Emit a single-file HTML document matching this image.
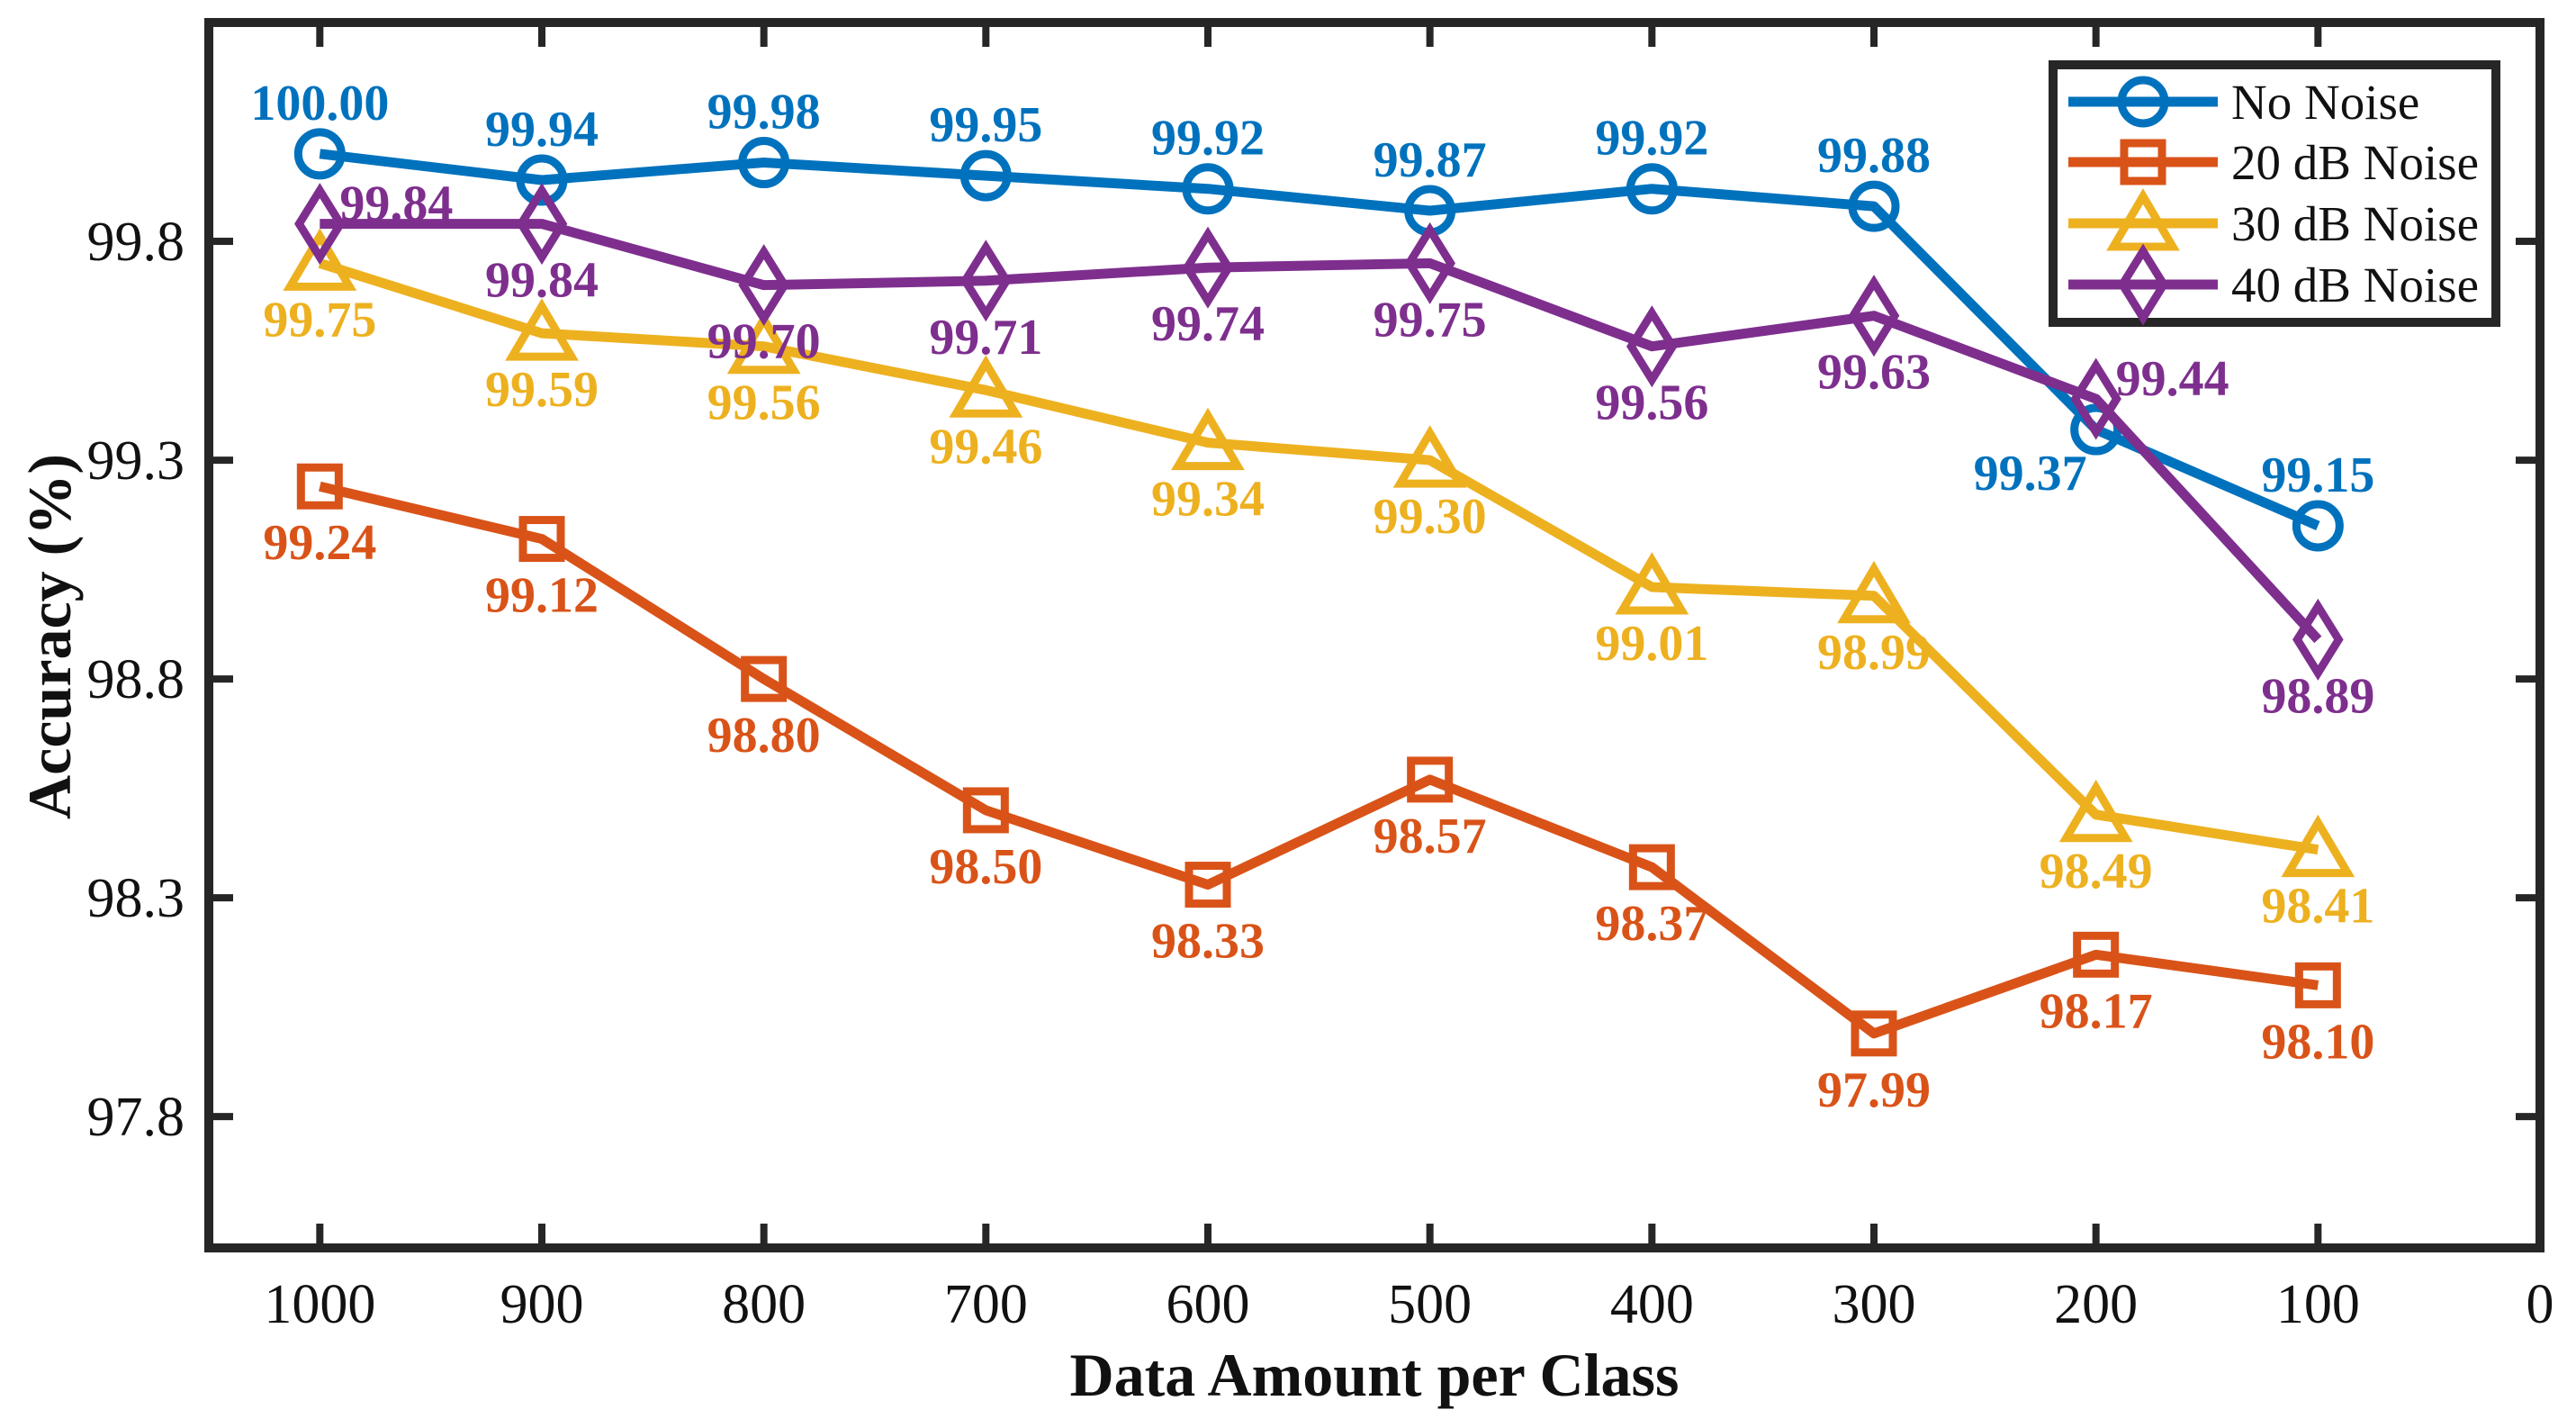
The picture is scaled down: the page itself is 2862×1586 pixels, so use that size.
<!DOCTYPE html>
<html><head><meta charset="utf-8"><style>
html,body{margin:0;padding:0;background:#fff;}
svg{display:block;}
text{font-family:"Liberation Serif","Times New Roman",serif;}
</style></head><body>
<svg id="chart" width="2862" height="1586" viewBox="0 0 2862 1586" xmlns="http://www.w3.org/2000/svg">
<rect x="0" y="0" width="2862" height="1586" fill="#fff"/>
<g id="plot"></g>
</svg>
<script>
const categories = [1000, 900, 800, 700, 600, 500, 400, 300, 200, 100];
const xTicks = [1000, 900, 800, 700, 600, 500, 400, 300, 200, 100, 0];
const yTicks = [99.8, 99.3, 98.8, 98.3, 97.8];
const yTickLabels = ["99.8", "99.3", "98.8", "98.3", "97.8"];
const noNoise = [100.00, 99.94, 99.98, 99.95, 99.92, 99.87, 99.92, 99.88, 99.37, 99.15];
const noise20 = [99.24, 99.12, 98.80, 98.50, 98.33, 98.57, 98.37, 97.99, 98.17, 98.10];
const noise30 = [99.75, 99.59, 99.56, 99.46, 99.34, 99.30, 99.01, 98.99, 98.49, 98.41];
const noise40 = [99.84, 99.84, 99.70, 99.71, 99.74, 99.75, 99.56, 99.63, 99.44, 98.89];
const seriesNames = ["No Noise", "20 dB Noise", "30 dB Noise", "40 dB Noise"];

const NS = "http://www.w3.org/2000/svg";
const L = 232, R = 2822, T = 25, B = 1386;
const xMin = 1050, xMax = 0, yMin = 97.5, yMax = 100.3;
function xs(v){ return L + (xMin - v) / (xMin - xMax) * (R - L); }
function ys(v){ return B - (v - yMin) / (yMax - yMin) * (B - T); }
const plot = document.getElementById('plot');
function mk(tag, attrs, parent){
  const e = document.createElementNS(NS, tag);
  for (const k in attrs) e.setAttribute(k, attrs[k]);
  (parent || plot).appendChild(e);
  return e;
}
const colors = ["#0072BD", "#D95319", "#EDB120", "#7E2F8E"];
const AX = "#262626";

xTicks.forEach((v, i) => {
  const x = xs(v);
  let t = mk('line', {x1:x, x2:x, y1:B, y2:B-27, stroke:AX, 'stroke-width':8});
  
  
  t = mk('line', {x1:x, x2:x, y1:T, y2:T+27, stroke:AX, 'stroke-width':8});
  
  
  const lb = mk('text', {x:x, y:1469, 'text-anchor':'middle', 'font-size':62, fill:'#111'});
  lb.textContent = String(v);
  
  
});
yTicks.forEach((v, i) => {
  const y = ys(v);
  let t = mk('line', {x1:L, x2:L+27, y1:y, y2:y, stroke:AX, 'stroke-width':8});
  
  
  t = mk('line', {x1:R, x2:R-27, y1:y, y2:y, stroke:AX, 'stroke-width':8});
  
  
  const lb = mk('text', {x:205, y:y+21, 'text-anchor':'end', 'font-size':62, fill:'#111'});
  lb.textContent = yTickLabels[i];
  
  
});
const frame = mk('rect', {x:L, y:T, width:R-L, height:B-T, fill:'none', stroke:AX, 'stroke-width':10});



const xt = mk('text', {x:1527, y:1550, 'text-anchor':'middle', 'font-size':68, 'font-weight':'bold', fill:'#111'});
xt.textContent = 'Data Amount per Class';


const yt = mk('text', {x:0, y:0, 'text-anchor':'middle', 'font-size':68, 'font-weight':'bold', fill:'#111', transform:'translate(78,707) rotate(-90)'});
yt.textContent = 'Accuracy (%)';



function marker(type, x, y, color, parent){
  const a = {fill:'none', stroke:color, 'stroke-width':9};
  let m;
  if (type === 0) m = mk('circle', Object.assign({cx:x, cy:y, r:24}, a), parent);
  else if (type === 1) m = mk('rect', Object.assign({x:x-21, y:y-21, width:42, height:42}, a), parent);
  else if (type === 2) m = mk('polygon', Object.assign({points:`${x},${y-30} ${x+33},${y+26} ${x-33},${y+26}`}, a), parent);
  else m = mk('polygon', Object.assign({points:`${x},${y-37} ${x+23},${y} ${x},${y+37} ${x-23},${y}`}, a), parent);
  return m;
}

const allSeries = [noNoise, noise20, noise30, noise40];
const placements = [
  ['a','a','a','a','a','a','a','a','l','a'],
  ['b','b','b','b','b','b','b','b','b','b'],
  ['b','b','b','b','b','b','b','b','b','b'],
  ['r','b','b','b','b','b','b','b','r','b']
];
allSeries.forEach((data, s) => {
  const g = mk('g', {});
  
  
  const pts = data.map((v, i) => xs(categories[i]) + ',' + ys(v)).join(' ');
  const pl = mk('polyline', {points:pts, fill:'none', stroke:colors[s], 'stroke-width':11, 'stroke-linejoin':'round'}, g);
  
  
  data.forEach((v, i) => {
    const x = xs(categories[i]), y = ys(v);
    const m = marker(s, x, y, colors[s], g);
    
    
  });
});
allSeries.forEach((data, s) => {
  data.forEach((v, i) => {
    const x = xs(categories[i]), y = ys(v);
    const p = placements[s][i];
    let tx = x, ty = y + 81, anchor = 'middle';
    if (p === 'a') { ty = y - 38; }
    else if (p === 'r') { tx = x + 22; ty = y - 4; anchor = 'start'; }
    else if (p === 'l') { tx = x - 73; ty = y + 67; }
    const t = mk('text', {x:tx, y:ty, 'text-anchor':anchor, 'font-size':56, 'font-weight':'bold', fill:colors[s]});
    t.textContent = v.toFixed(2);
    
    
  });
});

const lg = mk('g', {});


const lbox = mk('rect', {x:2281, y:72, width:492, height:286, fill:'#fff', stroke:AX, 'stroke-width':10}, lg);


const rowY = [113, 180, 248, 316];
seriesNames.forEach((n, s) => {
  const y = rowY[s];
  const e = mk('g', {}, lg);
  
  
  mk('line', {x1:2298, x2:2464, y1:y, y2:y, stroke:colors[s], 'stroke-width':11}, e);
  marker(s, 2381, y, colors[s], e);
  const t = mk('text', {x:2479, y:y+19, 'font-size':55, fill:'#111'}, e);
  t.textContent = n;
  
  
});
</script>
</body></html>
